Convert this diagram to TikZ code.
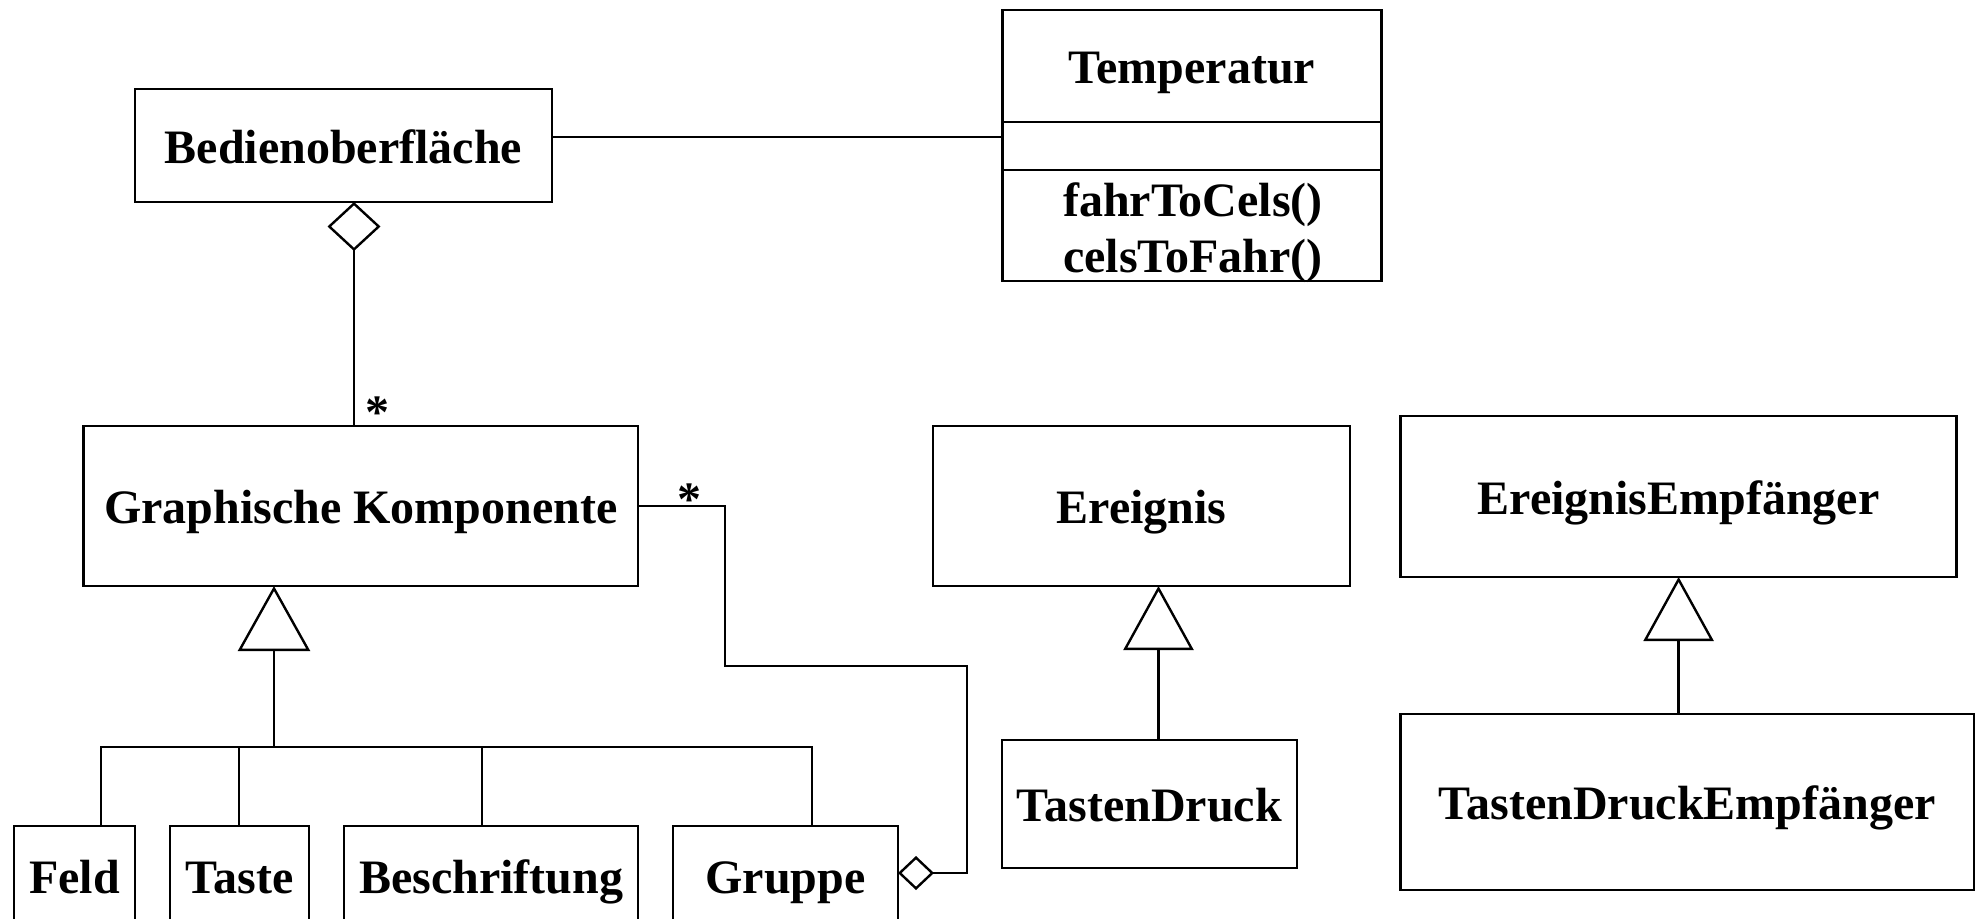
\documentclass[tikz,border=0pt]{standalone}
\usepackage{fontspec}
\setmainfont{Liberation Serif}
\usetikzlibrary{arrows.meta,calc}

\tikzset{
  umlfont/.style={font=\bfseries\fontsize{24}{28}\selectfont},
  cls/.style={draw, rectangle, line width=1.4pt, inner sep=0pt, outer sep=0pt,
              text height=17.5pt, text depth=0pt, umlfont},
  sz/.style 2 args={minimum width=#1*0.5pt, minimum height=#2*0.5pt},
  txt/.style={inner sep=0pt, outer sep=0pt, anchor=base, umlfont},
  link/.style={line width=1.2pt},
}

\begin{document}
\begin{tikzpicture}[x=0.5pt, y=-0.5pt]
  \useasboundingbox (0,0) rectangle (1978,918);
  \clip (0,0) rectangle (1978,918);

  % classes
  \node[cls, sz={417}{113}] (bed) at (343.5,145.5) {Bedienoberfläche};

  \node[cls, sz={379}{112}] (tname) at (1192,66) {Temperatur};
  \node[cls, sz={379}{48}]  (tattr) at (1192,146) {};
  \node[cls, sz={379}{111}] (tops)  at (1192,225.5) {};
  \node[txt] (op1) at (1193,216) {fahrToCels()};
  \node[txt] (op2) at (1193,272) {celsToFahr()};

  \node[cls, sz={554.5}{160}] (gk) at (360.75,506) {Graphische Komponente};
  \node[cls, sz={417}{160}] (ereignis) at (1141.5,506) {Ereignis};
  \node[cls, sz={556}{161}] (ee) at (1678.6,496.5) {EreignisEmpfänger};
  \node[cls, sz={295}{128}] (td) at (1149.4,804) {TastenDruck};
  \node[cls, sz={573.5}{176}] (tde) at (1687.25,802) {TastenDruckEmpfänger};

  \node[cls, sz={121}{99}] (feld)   at (74.5,875.5) {Feld};
  \node[cls, sz={139}{99}] (taste)  at (239.5,875.5) {Taste};
  \node[cls, sz={294}{99}] (besch)  at (491,875.5) {Beschriftung};
  \node[cls, sz={225}{99}] (gruppe) at (785.5,875.5) {Gruppe};

  % association Bedienoberfläche -- Temperatur
  \coordinate (bt) at ($(bed.east)+(0,-8.5)$);
  \draw[link] (bt) -- (bt -| tattr.west);

  % aggregation Bedienoberfläche <>-- Graphische Komponente
  \coordinate (ax) at (354,0);
  \draw[link, {Diamond[open, length=24.5pt, width=26.5pt]}-]
    (bed.south -| ax) -- (gk.north -| ax);
  \node[txt] (m1) at (377.5,428) {*};

  % aggregation Gruppe <>-- Graphische Komponente
  \coordinate (r1) at (725,666);
  \coordinate (r2) at (967,873);
  \draw[link, -{Diamond[open, length=18pt, width=17pt]}]
    (gk.east) -| (r1) -| (r2) -- (r2 -| gruppe.east);
  \node[txt] (m2) at (689.5,515.5) {*};

  % generalization to Graphische Komponente
  \coordinate (j)  at (274,747);
  \coordinate (bF) at (101,747);
  \coordinate (bT) at (239,747);
  \coordinate (bB) at (482,747);
  \coordinate (bG) at (812,747);
  \draw[link, -{Triangle[open, length=32.5pt, width=36pt]}] (j) -- (j |- gk.south);
  \draw[link] (feld.north -| bF) -- (bF) -- (bG) -- (gruppe.north -| bG);
  \draw[link] (taste.north -| bT) -- (bT);
  \draw[link] (besch.north -| bB) -- (bB);

  % generalization TastenDruck -> Ereignis
  \coordinate (ex) at (1158.5,0);
  \draw[link, -{Triangle[open, length=32pt, width=35pt]}]
    (td.north -| ex) -- (ereignis.south -| ex);

  % generalization TastenDruckEmpfänger -> EreignisEmpfänger
  \draw[link, -{Triangle[open, length=32pt, width=35pt]}]
    (tde.north -| ee.south) -- (ee.south);
\end{tikzpicture}
\end{document}
